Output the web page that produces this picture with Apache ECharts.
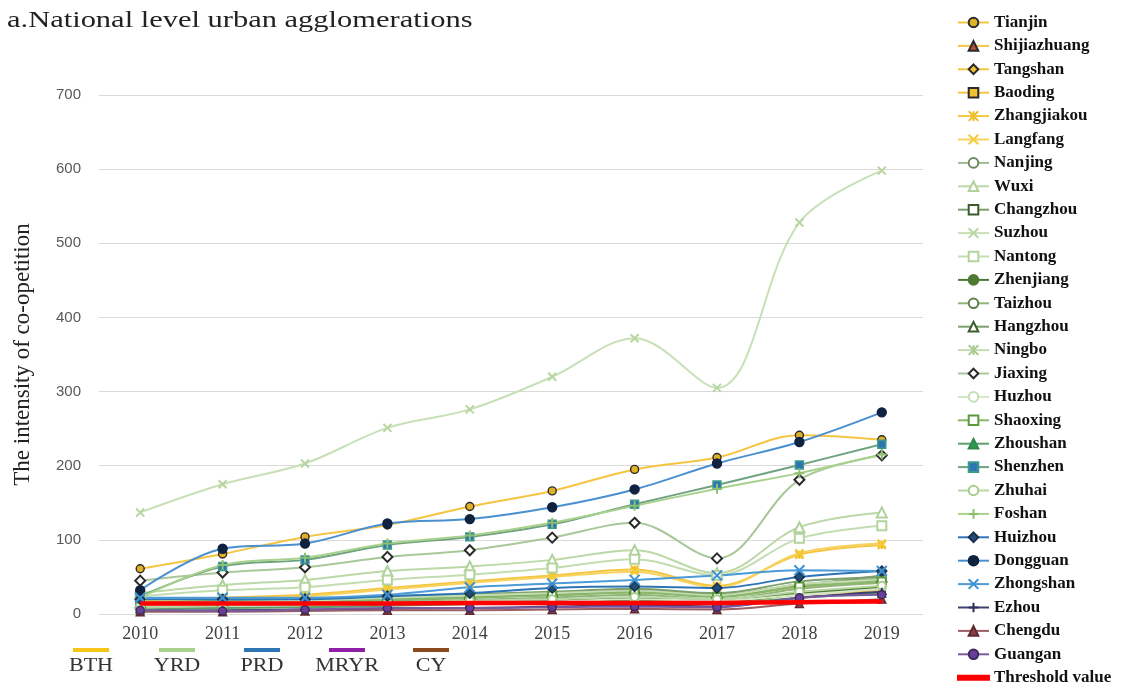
<!DOCTYPE html>
<html>
<head>
<meta charset="utf-8">
<script src="https://cdn.jsdelivr.net/npm/echarts@6/dist/echarts.min.js"></script>
<style>
  html, body { margin: 0; padding: 0; background: #ffffff; }
  #chart { width: 1121px; height: 691px; }
</style>
</head>
<body>
<div id="chart"></div>
<script>
// Years on the category axis
const years = ['2010', '2011', '2012', '2013', '2014', '2015', '2016', '2017', '2018', '2019'];
const yTicks = [0, 100, 200, 300, 400, 500, 600, 700];

// Beijing–Tianjin–Hebei (BTH)
const tianjin      = [61, 81, 104, 120, 145, 166, 195, 211, 241, 235];
const shijiazhuang = [8, 10, 11, 13, 15, 17, 20, 16, 26, 32];
const tangshan     = [13, 15, 17, 20, 23, 26, 29, 24, 36, 42];
const baoding      = [9, 11, 12, 14, 16, 18, 21, 17, 27, 34];
const zhangjiakou  = [18, 22, 26, 35, 44, 52, 60, 38, 80, 93];
const langfang     = [16, 20, 24, 33, 42, 50, 57, 36, 82, 95];

// Yangtze River Delta (YRD)
const nanjing   = [12, 14, 16, 20, 24, 28, 32, 26, 40, 48];
const wuxi      = [28, 39, 46, 58, 64, 73, 86, 55, 117, 137];
const changzhou = [10, 12, 14, 18, 22, 26, 30, 24, 38, 52];
const suzhou    = [137, 175, 203, 251, 276, 320, 372, 305, 528, 598];
const nantong   = [24, 32, 36, 46, 53, 62, 74, 52, 102, 119];
const zhenjiang = [8, 10, 12, 14, 16, 18, 20, 17, 28, 36];
const taizhou   = [9, 11, 13, 16, 19, 22, 26, 20, 34, 42];
const hangzhou  = [15, 18, 20, 24, 27, 30, 34, 28, 44, 50];
const ningbo    = [14, 16, 18, 22, 25, 28, 31, 25, 40, 46];
const jiaxing   = [45, 56, 63, 77, 86, 103, 123, 75, 181, 214];
const huzhou    = [7, 9, 11, 13, 15, 17, 20, 18, 26, 34];
const shaoxing  = [11, 13, 15, 19, 22, 25, 29, 23, 37, 44];
const zhoushan  = [6, 8, 9, 11, 13, 15, 17, 14, 22, 28];

// Pearl River Delta (PRD)
const shenzhen  = [24, 64, 73, 93, 104, 121, 148, 174, 201, 229];
const zhuhai    = [10, 12, 13, 15, 18, 20, 23, 20, 30, 38];
const foshan    = [22, 66, 76, 95, 106, 123, 146, 169, 190, 215];
const huizhou   = [20, 20, 20, 24, 28, 35, 37, 35, 50, 58];
const dongguan  = [32, 88, 95, 122, 128, 144, 168, 203, 232, 272];
const zhongshan = [22, 22, 22, 26, 36, 41, 46, 52, 59, 58];

// Middle reaches of the Yangtze River (MRYR) and Chengdu–Chongqing (CY)
const ezhou   = [4, 5, 6, 7, 8, 10, 12, 10, 22, 30];
const chengdu = [3, 3, 4, 5, 5, 6, 7, 6, 14, 20];
const guangan = [5, 4, 6, 8, 8, 9, 10, 9, 22, 26];

// Threshold line
const threshold = [14, 14, 14, 14, 15, 15, 15, 15, 16, 17];

// Agglomeration key under the axis
const groupNames  = ['BTH', 'YRD', 'PRD', 'MRYR', 'CY'];
const groupColors = ['#F5C518', '#A9D18E', '#2E75B6', '#8E1FA6', '#8B4A1C'];
const groupX      = [91, 177, 262, 347, 431];

// Marker shapes drawn as strokes
const SYM_X    = 'path://M0,0L10,10M10,0L0,10';
const SYM_PLUS = 'path://M5,0L5,10M0,5L10,5';
const SYM_STAR = 'path://M0,0L10,10M10,0L0,10M5,0L5,10';
// Plain bar used as the legend key of the threshold line
const ICON_BAR = 'path://M0,0L31,0L31,4L0,4Z';

function s(name, data, lineColor, symbol, fill, border, opts) {
  opts = opts || {};
  return {
    name: name,
    type: 'line',
    data: data,
    smooth: 0.35,
    symbol: symbol,
    symbolSize: opts.size || 8,
    showSymbol: symbol !== 'none',
    lineStyle: { color: lineColor, width: opts.width || 2 },
    itemStyle: { color: fill, borderColor: border, borderWidth: opts.bw || 1.4 },
    emphasis: { disabled: true },
    z: opts.z || 2
  };
}

const series = [
  s('Tianjin', tianjin, '#F5C542', 'circle', '#E0B126', '#2a2a2a'),
  s('Shijiazhuang', shijiazhuang, '#F5C542', 'triangle', '#B0503A', '#2a2a2a'),
  s('Tangshan', tangshan, '#F5C542', 'diamond', '#F2C230', '#2a2a2a'),
  s('Baoding', baoding, '#F5C542', 'rect', '#F2C230', '#2a2a2a', { size: 7 }),
  s('Zhangjiakou', zhangjiakou, '#F5C542', SYM_STAR, '#F5C542', '#F0BE2A', { bw: 2 }),
  s('Langfang', langfang, '#F7D35E', SYM_X, '#F7D35E', '#F5CB3A', { bw: 2 }),
  s('Nanjing', nanjing, '#A3B993', 'emptyCircle', '#6E8A5C', '#6E8A5C'),
  s('Wuxi', wuxi, '#BBD8A6', 'emptyTriangle', '#B0D29A', '#B0D29A', { size: 10 }),
  s('Changzhou', changzhou, '#7E9F6C', 'emptyRect', '#3D5A2A', '#3D5A2A', { size: 7 }),
  s('Suzhou', suzhou, '#C8E0B6', SYM_X, '#C8E0B6', '#B8D6A2', { bw: 2 }),
  s('Nantong', nantong, '#C3DDB0', 'emptyRect', '#B4D49E', '#B4D49E', { size: 9 }),
  s('Zhenjiang', zhenjiang, '#4E7A34', 'circle', '#4E7A34', '#4E7A34', { width: 3.5, size: 4 }),
  s('Taizhou', taizhou, '#92B37C', 'emptyCircle', '#5F7F4A', '#5F7F4A'),
  s('Hangzhou', hangzhou, '#7E9F6C', 'emptyTriangle', '#3D5A2A', '#3D5A2A', { size: 9 }),
  s('Ningbo', ningbo, '#C3DDB0', SYM_STAR, '#C3DDB0', '#A8CC90', { bw: 2 }),
  s('Jiaxing', jiaxing, '#A9C89A', 'diamond', '#ffffff', '#2a2a2a', { size: 10, bw: 2 }),
  s('Huzhou', huzhou, '#D3E6C6', 'emptyCircle', '#C4DEB2', '#C4DEB2'),
  s('Shaoxing', shaoxing, '#88B86A', 'emptyRect', '#5C9B3C', '#5C9B3C', { size: 8 }),
  s('Zhoushan', zhoushan, '#5E9E6E', 'triangle', '#2F9A52', '#2F8A4A'),
  s('Shenzhen', shenzhen, '#6FA27E', 'rect', '#2E75B6', '#3C9A8A', { size: 8 }),
  s('Zhuhai', zhuhai, '#B9D7A4', 'emptyCircle', '#A6CC8C', '#A6CC8C'),
  s('Foshan', foshan, '#A9D18E', SYM_PLUS, '#9CCB7E', '#8DBF6E', { bw: 2, size: 10 }),
  s('Huizhou', huizhou, '#2E75B6', 'diamond', '#1F4E79', '#1B2F4A', { size: 10 }),
  s('Dongguan', dongguan, '#4A8FD0', 'circle', '#0F2240', '#0F2240', { size: 9 }),
  s('Zhongshan', zhongshan, '#4A9BD8', SYM_X, '#4A9BD8', '#3F92D2', { bw: 2, size: 10 }),
  s('Ezhou', ezhou, '#3F3F6E', SYM_PLUS, '#2E2E5A', '#2E2E5A', { bw: 2 }),
  s('Chengdu', chengdu, '#9C5E62', 'triangle', '#8A3E48', '#5E2A30'),
  s('Guangan', guangan, '#7A5A9E', 'circle', '#6A3F9A', '#3C2A5A'),
  s('Threshold value', threshold, '#FF0000', 'none', '#FF0000', '#FF0000', { width: 4.5, z: 5 })
];

const chart = echarts.init(document.getElementById('chart'), null, { renderer: 'canvas' });

// Title and agglomeration key are drawn as text elements so they can be widened
const graphics = [{
  type: 'text',
  x: 7,
  y: 21,
  scaleX: 1.27,
  style: {
    text: 'a.National level urban agglomerations',
    fill: '#222222',
    font: '24px "Liberation Serif"',
    textAlign: 'left',
    textVerticalAlign: 'middle'
  }
}];
groupNames.forEach(function (name, i) {
  graphics.push({
    type: 'line',
    shape: { x1: groupX[i] - 18, y1: 650, x2: groupX[i] + 18, y2: 650 },
    style: { stroke: groupColors[i], lineWidth: 4 }
  });
  graphics.push({
    type: 'text',
    x: groupX[i],
    y: 666,
    scaleX: 1.16,
    style: {
      text: name,
      fill: '#333333',
      font: '19px "Liberation Serif"',
      textAlign: 'center',
      textVerticalAlign: 'middle'
    }
  });
});

chart.setOption({
  backgroundColor: '#ffffff',
  animation: false,
  grid: { left: 99, right: 198, top: 95, bottom: 77, outerBoundsMode: 'none', containLabel: false },
  xAxis: {
    type: 'category',
    data: years,
    boundaryGap: true,
    axisLine: { show: false },
    axisTick: { show: false },
    axisLabel: { margin: 11, fontFamily: 'Liberation Serif', fontSize: 18, color: '#404040' }
  },
  yAxis: {
    type: 'value',
    min: yTicks[0],
    max: yTicks[yTicks.length - 1],
    interval: 100,
    name: 'The intensity of co-opetition',
    nameLocation: 'middle',
    nameRotate: 90,
    nameGap: 65,
    nameTextStyle: { fontFamily: 'Liberation Serif', fontSize: 23, color: '#222222' },
    axisLine: { show: false },
    axisTick: { show: false },
    axisLabel: { margin: 18, fontFamily: 'Liberation Sans', fontSize: 15, color: '#595959' },
    splitLine: { lineStyle: { color: '#DADADA', width: 1 } }
  },
  legend: {
    orient: 'vertical',
    left: 957,
    top: 14,
    bottom: 0,
    padding: 0,
    itemWidth: 31,
    itemHeight: 12,
    itemGap: 6.4,
    textStyle: { fontFamily: 'Liberation Serif', fontWeight: 'bold', fontSize: 17, color: '#111111', lineHeight: 16 },
    data: series.map(function (x) {
      return x.symbol === 'none' ? { name: x.name, icon: ICON_BAR } : x.name;
    })
  },
  graphic: graphics,
  series: series
});
</script>
</body>
</html>
